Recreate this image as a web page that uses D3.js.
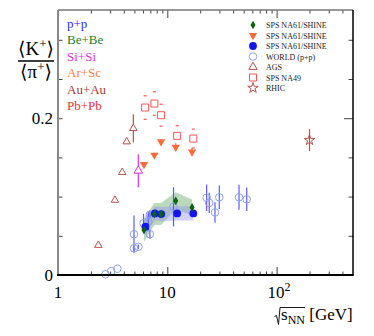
<!DOCTYPE html>
<html>
<head>
<meta charset="utf-8">
<script src="https://cdn.jsdelivr.net/npm/d3@7"></script>
<style>
  body { margin: 0; background: #fff; }
  text { font-family: "Liberation Serif", "DejaVu Serif", serif; }
</style>
</head>
<body>
<div id="chart"></div>
<script>
// ---- data ----
// NA61/SHINE p+p
const ppX = [6.3, 7.7, 8.8, 12.3, 17.3];
const ppY = [0.0615, 0.0786, 0.0777, 0.0786, 0.0786];
const ppSys = [0.010, 0.009, 0.009, 0.009, 0.009];
// NA61/SHINE Be+Be
const beX = [6.12, 7.62, 8.77, 11.94, 16.84];
const beY = [0.0573, 0.0777, 0.0777, 0.0946, 0.0862];
const beSys = [0.015, 0.014, 0.014, 0.011, 0.010];
// NA61/SHINE Ar+Sc
const arX = [6.12, 7.62, 8.77, 11.94, 16.84];
const arY = [0.141, 0.153, 0.170, 0.163, 0.157];
const arErr = [0.003, 0.003, 0.003, 0.005, 0.005];
// NA49 Pb+Pb
const pbX = [6.27, 7.62, 8.77, 12.3, 17.3];
const pbY = [0.2136, 0.2187, 0.2038, 0.1775, 0.174];
const pbSys = [0.015, 0.015, 0.014, 0.013, 0.012];
// NA49 Si+Si
const siX = [5.43];
const siY = [0.133];
const siErr = [0.021];
// AGS Au+Au
const auX = [2.34, 3.32, 3.87, 4.25, 4.89];
const auY = [0.038, 0.0955, 0.131, 0.170, 0.187];
const auErr = [0, 0, 0, 0.003, 0.018];
// RHIC Au+Au
const rhicX = [200];
const rhicY = [0.172];
const rhicErr = [0.014];
// world p+p data
const worldX = [2.72, 3.07, 3.49, 4.96, 4.96, 5.43, 6.06, 6.7, 6.94, 6.94, 11.4, 22.9, 24.2, 27.3, 29.9, 45.3, 53.3];
const worldY = [0.001, 0.005, 0.008, 0.052, 0.034, 0.036, 0.066, 0.068, 0.077, 0.052, 0.087, 0.0985, 0.092, 0.0798, 0.0991, 0.0991, 0.0965];
const worldErr = [0, 0, 0, 0.024, 0.003, 0.003, 0.012, 0.012, 0.005, 0.006, 0.025, 0.017, 0.013, 0.013, 0.015, 0.016, 0.015];

const systemNames = ["p+p", "Be+Be", "Si+Si", "Ar+Sc", "Au+Au", "Pb+Pb"];
const systemColors = ["#2a2aff", "#1e7d1e", "#e030e0", "#ff7f4a", "#a83a3a", "#f03030"];
const legendNames = ["SPS NA61/SHINE", "SPS NA61/SHINE", "SPS NA61/SHINE", "WORLD (p+p)", "AGS", "SPS NA49", "RHIC"];

const xMajor = [1, 10, 100];
const xMinor = [2, 3, 4, 5, 6, 7, 8, 9, 20, 30, 40, 50, 60, 70, 80, 90, 200, 300, 400];
const yTicks = [0.05, 0.1, 0.15, 0.2, 0.25, 0.3];

// ---- layout ----
const width = 374, height = 336;
const mLeft = 58, mRight = 353, mTop = 10, mBottom = 275;

const svg = d3.select("#chart").append("svg")
  .attr("width", width)
  .attr("height", height);

const x = d3.scaleLog().domain([1, 500]).range([mLeft, mRight]);
const y = d3.scaleLinear().domain([0, 0.338]).range([mBottom, mTop]);

const cGreen = "#0a640a", cOrange = "#ff6a3a", cBlue = "#1515f0",
  cWorld = "#8ea2ee", cWorldBar = "#5a5aff", cBrown = "#b85050",
  cRed = "#ff5555", cMag = "#e030e0";

// ---- systematic bands ----
function band(xs, ys, sys, fill) {
  const pts = xs.map((v, i) => ({x: v, y: ys[i], s: sys[i]}));
  svg.append("path")
    .datum(pts)
    .attr("fill", fill)
    .attr("fill-opacity", 0.4)
    .attr("d", d3.area().x(d => x(d.x)).y0(d => y(d.y - d.s)).y1(d => y(d.y + d.s)));
}
band(beX, beY, beSys, "#5aa05a");
band(ppX, ppY, ppSys, "#8c8cf0");

// ---- error bars helper ----
function errBars(xs, ys, errs, color) {
  svg.append("g").selectAll("line")
    .data(xs.map((v, i) => [v, ys[i], errs[i]]).filter(d => d[2] > 0))
    .enter().append("line")
    .attr("x1", d => x(d[0])).attr("x2", d => x(d[0]))
    .attr("y1", d => y(d[1] - d[2])).attr("y2", d => y(d[1] + d[2]))
    .attr("stroke", color).attr("stroke-width", 1.2);
}

function markers(xs, ys, type, size, fill, stroke, rot) {
  svg.append("g").selectAll("path")
    .data(xs.map((v, i) => [v, ys[i]]))
    .enter().append("path")
    .attr("d", d3.symbol().type(type).size(size))
    .attr("transform", d => `translate(${x(d[0])},${y(d[1])})` + (rot ? ` rotate(${rot})` : ""))
    .attr("fill", fill)
    .attr("stroke", stroke)
    .attr("stroke-width", stroke === "none" ? 0 : 1);
}

// world p+p
errBars(worldX, worldY, worldErr, cWorldBar);
svg.append("g").selectAll("circle")
  .data(worldX.map((v, i) => [v, worldY[i]]))
  .enter().append("circle")
  .attr("cx", d => x(d[0])).attr("cy", d => y(d[1]))
  .attr("r", 3.8)
  .attr("fill", "none").attr("stroke", cWorld).attr("stroke-width", 1);

// AGS Au+Au
errBars(auX, auY, auErr, cBrown);
markers(auX, auY, d3.symbolTriangle, 24, "#fff", cBrown);

// Si+Si
errBars(siX, siY, siErr, cMag);
markers(siX, siY, d3.symbolTriangle, 32, "#fff", cMag);

// RHIC
errBars(rhicX, rhicY, rhicErr, cBrown);
markers(rhicX, rhicY, d3.symbolStar, 34, "none", cBrown);

// NA49 Pb+Pb: systematic dashes
svg.append("g").selectAll("line")
  .data(pbX.flatMap((v, i) => [[v, pbY[i] + pbSys[i]], [v, pbY[i] - pbSys[i]]]))
  .enter().append("line")
  .attr("x1", d => x(d[0]) - 1.5).attr("x2", d => x(d[0]) + 1.5)
  .attr("y1", d => y(d[1])).attr("y2", d => y(d[1]))
  .attr("stroke", cRed).attr("stroke-width", 1.2);
markers(pbX, pbY, d3.symbolSquare, 49, "#fff", cRed);

// Ar+Sc
errBars(arX, arY, arErr, cOrange);
markers(arX, arY, d3.symbolTriangle, 30, cOrange, "none", 180);

// p+p NA61 and Be+Be NA61
markers(ppX, ppY, d3.symbolCircle, 48, cBlue, "none");
markers(beX, beY, d3.symbolDiamond, 22, cGreen, "none");

// ---- axes ----
function clean(g) { g.select(".domain").remove(); g.selectAll("text").remove(); }

svg.append("g").attr("transform", `translate(0,${mBottom})`)
  .call(d3.axisBottom(x).tickValues(xMinor).tickSize(-3.5)).call(clean);
svg.append("g").attr("transform", `translate(0,${mBottom})`)
  .call(d3.axisBottom(x).tickValues(xMajor).tickSize(-8)).call(clean);
svg.append("g").attr("transform", `translate(0,${mTop})`)
  .call(d3.axisTop(x).tickValues(xMinor).tickSize(-3.5)).call(clean);
svg.append("g").attr("transform", `translate(0,${mTop})`)
  .call(d3.axisTop(x).tickValues(xMajor).tickSize(-8)).call(clean);
svg.append("g").attr("transform", `translate(${mLeft},0)`)
  .call(d3.axisLeft(y).tickValues(yTicks).tickSize(-4.5)).call(clean);
svg.append("g").attr("transform", `translate(${mRight},0)`)
  .call(d3.axisRight(y).tickValues(yTicks.filter(v => v !== 0.2)).tickSize(-4.5)).call(clean);
svg.append("g").attr("transform", `translate(${mRight},0)`)
  .call(d3.axisRight(y).tickValues([0.2]).tickSize(-9)).call(clean);
svg.selectAll(".tick line").attr("stroke", "#444");

// frame
svg.append("line").attr("x1", mLeft).attr("x2", mRight).attr("y1", mTop).attr("y2", mTop)
  .attr("stroke", "#777").attr("stroke-width", 1.3);
svg.append("line").attr("x1", mLeft).attr("x2", mLeft).attr("y1", mTop).attr("y2", mBottom)
  .attr("stroke", "#888").attr("stroke-width", 2);
svg.append("line").attr("x1", mRight).attr("x2", mRight).attr("y1", mTop).attr("y2", mBottom)
  .attr("stroke", "#000").attr("stroke-width", 1.5);
svg.append("line").attr("x1", mLeft - 1).attr("x2", mRight + 0.75).attr("y1", mBottom).attr("y2", mBottom)
  .attr("stroke", "#000").attr("stroke-width", 1.8);

// tick labels
svg.append("text").attr("x", mLeft - 5).attr("y", y(0) + 5.5).attr("text-anchor", "end")
  .attr("font-size", 17).text("0");
svg.append("text").attr("x", mLeft - 5).attr("y", y(0.2) + 6).attr("text-anchor", "end")
  .attr("font-size", 17).text("0.2");
svg.append("text").attr("x", x(1)).attr("y", 298).attr("text-anchor", "middle")
  .attr("font-size", 17).text("1");
svg.append("text").attr("x", x(10)).attr("y", 298).attr("text-anchor", "middle")
  .attr("font-size", 17).text("10");
const t100 = svg.append("text").attr("x", x(100) - 9).attr("y", 298).attr("text-anchor", "start")
  .attr("font-size", 17);
t100.append("tspan").text("10");
t100.append("tspan").attr("dy", -7).attr("font-size", 12).text("2");

// x title
const xt = svg.append("text").attr("x", 281).attr("y", 320).attr("font-size", 17);
xt.append("tspan").text("s");
xt.append("tspan").attr("dy", 4).attr("font-size", 12).text("NN");
xt.append("tspan").attr("dy", -4).text(" [GeV]");
const endNN = xt.node().getEndPositionOfChar(2).x;
svg.append("path")
  .attr("d", `M274.5,316.5 L276.5,315.5 L278.5,324.5 L280,307.5 L${endNN},307.5`)
  .attr("fill", "none").attr("stroke", "#000").attr("stroke-width", 0.9);

// y title (fraction)
const num = svg.append("text").attr("x", 36).attr("y", 55).attr("text-anchor", "middle")
  .attr("font-size", 19);
num.append("tspan").text("\u27e8K");
num.append("tspan").attr("dy", -7).attr("font-size", 13).text("+");
num.append("tspan").attr("dy", 7).text("\u27e9");
svg.append("line").attr("x1", 18).attr("x2", 54).attr("y1", 61).attr("y2", 61)
  .attr("stroke", "#000").attr("stroke-width", 1.3);
const den = svg.append("text").attr("x", 36).attr("y", 78).attr("text-anchor", "middle")
  .attr("font-size", 19);
den.append("tspan").text("\u27e8\u03c0");
den.append("tspan").attr("dy", -7).attr("font-size", 13).text("+");
den.append("tspan").attr("dy", 7).text("\u27e9");

// left legend (system names)
svg.append("g").selectAll("text")
  .data(systemNames)
  .enter().append("text")
  .attr("x", 67)
  .attr("y", (d, i) => 27.5 + i * 16.5)
  .attr("font-size", 13)
  .attr("fill", (d, i) => systemColors[i])
  .text(d => d);

// right legend
const legSyms = [
  {type: d3.symbolDiamond, size: 22, fill: cGreen, stroke: "none"},
  {type: d3.symbolTriangle, size: 30, fill: cOrange, stroke: "none", rot: 180},
  {type: d3.symbolCircle, size: 48, fill: cBlue, stroke: "none"},
  {type: d3.symbolCircle, size: 45, fill: "none", stroke: cWorld},
  {type: d3.symbolTriangle, size: 30, fill: "none", stroke: cBrown},
  {type: d3.symbolSquare, size: 49, fill: "none", stroke: cRed},
  {type: d3.symbolStar, size: 34, fill: "none", stroke: cBrown}
];
const leg = svg.append("g").selectAll("g")
  .data(legendNames)
  .enter().append("g")
  .attr("transform", (d, i) => `translate(253,${25 + i * 10.5})`);
leg.append("path")
  .attr("d", (d, i) => d3.symbol().type(legSyms[i].type).size(legSyms[i].size)())
  .attr("transform", (d, i) => legSyms[i].rot ? `rotate(${legSyms[i].rot})` : null)
  .attr("fill", (d, i) => legSyms[i].fill)
  .attr("stroke", (d, i) => legSyms[i].stroke)
  .attr("stroke-width", 1);
leg.append("text")
  .attr("x", 13).attr("y", 3)
  .attr("font-size", 8)
  .attr("fill", "#222")
  .text(d => d);
</script>
</body>
</html>
